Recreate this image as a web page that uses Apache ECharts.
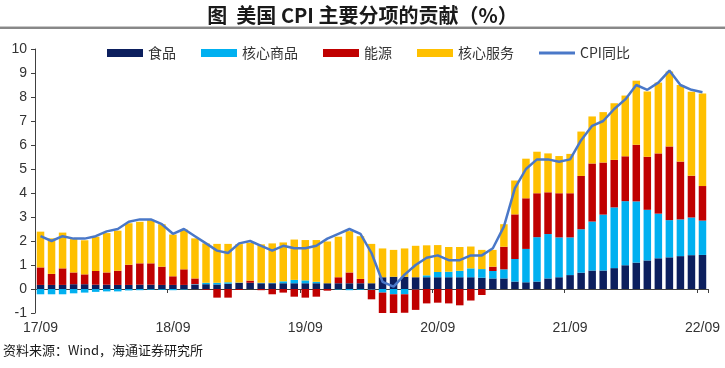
<!DOCTYPE html>
<html>
<head>
<meta charset="utf-8">
<script src="https://cdn.jsdelivr.net/npm/echarts@6/dist/echarts.min.js"></script>
<style>
html,body{margin:0;padding:0;background:#fff;}
#c{width:725px;height:368px;}
</style>
</head>
<body>
<div id="c"></div>
<script>
const categories = ['17/09','17/10','17/11','17/12',
'18/01','18/02','18/03','18/04','18/05','18/06','18/07','18/08','18/09','18/10','18/11','18/12',
'19/01','19/02','19/03','19/04','19/05','19/06','19/07','19/08','19/09','19/10','19/11','19/12',
'20/01','20/02','20/03','20/04','20/05','20/06','20/07','20/08','20/09','20/10','20/11','20/12',
'21/01','21/02','21/03','21/04','21/05','21/06','21/07','21/08','21/09','21/10','21/11','21/12',
'22/01','22/02','22/03','22/04','22/05','22/06','22/07','22/08','22/09'];

const food = [0.17,0.17,0.17,0.20,0.20,0.18,0.18,0.17,0.17,0.18,0.18,0.17,0.17,0.17,
0.18,0.20,0.19,0.22,0.26,0.26,
0.24,0.24,0.24,0.24,0.24,0.24,0.24,0.24,0.24,0.24,0.24,
0.49,0.51,0.51,0.49,0.49,0.49,0.49,0.49,0.49,
0.47,0.44,0.44,0.31,0.28,0.31,0.44,0.49,0.58,0.68,
0.77,0.77,0.87,0.99,1.10,1.19,1.28,1.32,1.37,1.41,1.42];

const coreGoods = [-0.22,-0.22,-0.22,-0.18,-0.15,-0.12,-0.10,-0.10,-0.06,-0.05,-0.03,-0.03,-0.05,-0.02,
0.02,0.06,0.07,0.06,0.01,0.00,
0.02,0.02,0.08,0.14,0.12,0.06,0.00,-0.02,-0.05,-0.03,-0.03,
-0.15,-0.22,-0.22,-0.02,0.08,0.22,0.23,0.27,0.37,
0.36,0.31,0.38,0.94,1.39,1.85,1.85,1.66,1.57,1.81,
2.04,2.33,2.53,2.67,2.55,2.11,1.86,1.55,1.53,1.57,1.43];

const energy = [0.73,0.46,0.69,0.49,0.41,0.57,0.51,0.59,0.84,0.89,0.89,0.76,0.36,0.65,
0.24,-0.03,-0.36,-0.36,-0.04,0.09,
-0.05,-0.22,-0.15,-0.32,-0.36,-0.32,-0.07,0.25,0.45,0.18,-0.40,
-0.86,-0.79,-0.77,-0.85,-0.60,-0.57,-0.60,-0.68,-0.48,
-0.25,0.18,0.94,1.86,2.11,1.83,1.74,1.84,1.84,2.22,
2.42,2.17,1.98,1.87,2.36,2.21,2.51,3.07,2.41,1.74,1.44];

const coreServices = [1.49,1.48,1.49,1.39,1.42,1.43,1.64,1.67,1.73,1.73,1.80,1.77,1.74,1.66,
1.67,1.64,1.62,1.60,1.60,1.57,
1.60,1.64,1.62,1.68,1.68,1.74,1.74,1.69,1.72,1.78,1.64,
1.20,1.12,1.18,1.31,1.25,1.12,1.03,0.99,0.91,
0.80,0.70,0.94,1.41,1.65,1.73,1.62,1.55,1.64,1.85,
1.96,2.10,2.36,2.53,2.67,2.72,2.95,3.12,3.19,3.50,3.86];

const cpiYoY = [2.2,2.0,2.2,2.1,
2.1,2.2,2.4,2.5,2.8,2.9,2.9,2.7,2.3,2.5,2.2,1.9,
1.6,1.5,1.9,2.0,1.8,1.6,1.8,1.7,1.7,1.8,2.1,2.3,
2.5,2.3,1.5,0.3,0.1,0.6,1.0,1.3,1.4,1.2,1.2,1.4,
1.4,1.7,2.6,4.2,5.0,5.4,5.4,5.3,5.4,6.2,6.8,7.0,
7.5,7.9,8.5,8.3,8.6,9.1,8.5,8.3,8.2];

const yTicks = {min:-1, max:10, interval:1};
const names = ['食品','核心商品','能源','核心服务','CPI同比'];
const colors = ['#0c1f5e','#00b0f0','#c00000','#ffc000','#4a78c8'];

const chart = echarts.init(document.getElementById('c'), null, {renderer:'canvas'});
const cjk = '"Noto Sans CJK SC", sans-serif';
const lat = '"Liberation Sans", Arial, sans-serif';

function barSeries(i, data){
  return {name:names[i], type:'bar', stack:'total', data:data, barWidth:'68%',
    itemStyle:{color:colors[i]}, xAxisIndex:0, yAxisIndex:0};
}

chart.setOption({
  animation:false,
  title:{text:'图  美国 CPI 主要分项的贡献（%）', left:'center', top:0,
    textStyle:{fontSize:20, fontWeight:'bold', color:'#1a1a1a', fontFamily:cjk}},
  graphic:[
    {type:'rect', left:0, top:26, shape:{width:725, height:1}, style:{fill:'#c8c8c8'}},
    {type:'rect', left:0, top:27, shape:{width:725, height:2}, style:{fill:'#888888'}},
    {type:'text', left:3, top:344, style:{text:'资料来源：Wind，海通证券研究所', fontSize:13, fill:'#1a1a1a', fontFamily:cjk}}
  ],
  legend:{left:107, top:46, padding:0, itemWidth:36, itemHeight:8, itemGap:25,
    textStyle:{fontSize:14, color:'#333', fontFamily:cjk},
    data:[
      {name:names[0], icon:'rect'},{name:names[1], icon:'rect'},{name:names[2], icon:'rect'},
      {name:names[3], icon:'rect'},
      {name:names[4], icon:'path://M0,0L36,0L36,3L0,3Z', itemStyle:{color:colors[4]}}
    ]},
  grid:{left:35, right:17, top:49, bottom:55, containLabel:false},
  xAxis:[
    {type:'category', data:categories, boundaryGap:true,
     axisLine:{show:true, onZero:true, lineStyle:{color:'#404040', width:1}},
     axisTick:{show:true, interval:11, length:4, inside:false, lineStyle:{color:'#404040'}},
     axisLabel:{show:false}, splitLine:{show:false}},
    {type:'category', data:categories, boundaryGap:true, position:'bottom',
     axisLine:{show:false, onZero:false}, axisTick:{show:false},
     axisLabel:{interval:11, fontSize:14, color:'#333', margin:8, fontFamily:lat},
     splitLine:{show:false}}
  ],
  yAxis:{type:'value', min:yTicks.min, max:yTicks.max, interval:yTicks.interval,
    axisLine:{show:true, lineStyle:{color:'#404040'}},
    axisTick:{show:true, length:4, lineStyle:{color:'#404040'}},
    splitLine:{show:false},
    axisLabel:{fontSize:14, color:'#333', margin:8, fontFamily:lat}},
  series:[
    barSeries(0, food),
    barSeries(1, coreGoods),
    barSeries(2, energy),
    barSeries(3, coreServices),
    {name:names[4], type:'line', data:cpiYoY, symbol:'none', z:10,
     lineStyle:{color:colors[4], width:2.5}, itemStyle:{color:colors[4]}}
  ]
});
</script>
</body>
</html>
